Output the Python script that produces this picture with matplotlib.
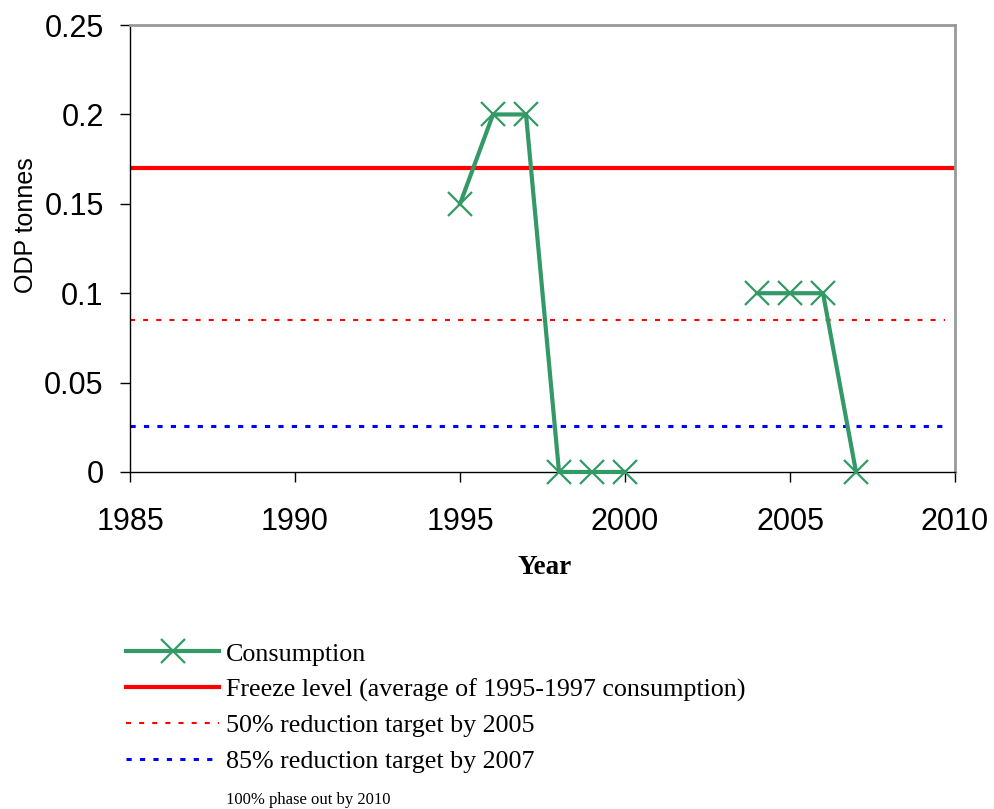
import numpy as np
import matplotlib.pyplot as plt

# consumption data (ODP tonnes), gap 2001-2003
years = [1995, 1996, 1997, 1998, 1999, 2000, 2001, 2002, 2003, 2004, 2005, 2006, 2007]
consumption = [0.15, 0.2, 0.2, 0, 0, 0, np.nan, np.nan, np.nan, 0.1, 0.1, 0.1, 0]

freeze_x = [1985, 2010]
freeze = [0.17, 0.17]
target_x = [1985, 2009.7]
target50 = [0.085, 0.085]
target85 = [0.0255, 0.0255]

fig = plt.figure(figsize=(9.95, 8.09), dpi=100)
ax = fig.add_axes([0.1307, 0.4166, 0.8291, 0.5524])

l1, = ax.plot(years, consumption, color='#339966', lw=3, marker='x', ms=17,
              mew=1.6, clip_on=False, zorder=5, label='Consumption')
l2, = ax.plot(freeze_x, freeze, color='#ff0000', lw=3,
              label='Freeze level (average of 1995-1997 consumption)')
l3, = ax.plot(target_x, target50, color='#ff0000', lw=1.5, dashes=(2.4, 3.9),
              label='50% reduction target by 2005')
l4, = ax.plot(target_x, target85, color='#0000ff', lw=2.2, dashes=(1.7, 2.7),
              label='85% reduction target by 2007')
l5, = ax.plot([], [], color='none', label='100% phase out by 2010')

ax.set_xlim(1985, 2010)
ax.set_ylim(0, 0.25)
ax.set_xticks([1985, 1990, 1995, 2000, 2005, 2010])
ax.set_yticks([0, 0.05, 0.1, 0.15, 0.2, 0.25])
ax.set_yticklabels(['0', '0.05', '0.1', '0.15', '0.2', '0.25'])
ax.tick_params(axis='both', labelsize=22, length=7, width=1, direction='out')
ax.tick_params(axis='x', pad=18)
ax.tick_params(axis='y', pad=12)
for t in ax.get_xticklabels() + ax.get_yticklabels():
    t.set_family('Liberation Sans')
for s in ['top', 'right']:
    ax.spines[s].set_color('#999999')
    ax.spines[s].set_linewidth(2)
for s in ['left', 'bottom']:
    ax.spines[s].set_color('black')
    ax.spines[s].set_linewidth(1)

ax.set_ylabel('ODP tonnes', fontsize=18, family='Liberation Sans')
ax.yaxis.set_label_coords(-0.1115, 0.553)
ax.set_xlabel('Year', fontsize=19.5, family='Liberation Serif', fontweight='bold')
ax.xaxis.set_label_coords(0.503, -0.185)

leg = fig.legend(handles=[l1, l2, l3, l4, l5], loc='upper left',
                 bbox_to_anchor=(0.1266, 0.206), frameon=False,
                 prop={'family': 'Liberation Serif', 'size': 18.7},
                 handlelength=3.6, handletextpad=0.25, labelspacing=0.48,
                 borderpad=0, borderaxespad=0)
leg.get_texts()[-1].set_fontsize(12)

fig.savefig('out.png', dpi=100)
